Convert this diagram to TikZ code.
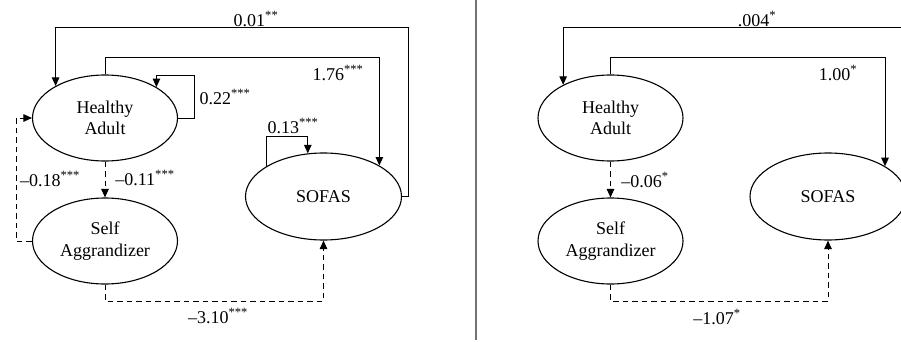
\documentclass[tikz,border=0pt]{standalone}
\usepackage{fontspec}
\setmainfont{Liberation Serif}
\usetikzlibrary{arrows.meta,shapes.geometric,calc}
\newcommand\figfont{\fontsize{18}{21.5}\selectfont}
\begin{document}
\begin{tikzpicture}[x=1pt,y=-1pt,
  lat/.style={ellipse,draw,line width=1.1pt,minimum width=145pt,minimum height=86pt,
    inner sep=0pt,align=center,font=\figfont},
  sofsize/.style={minimum width=156pt,minimum height=87pt},
  arr/.style={line width=1pt,-{Triangle[length=8.5pt,width=7.5pt]}},
  dsh/.style={dash pattern=on 5.5pt off 4pt},
  lbl/.style={inner sep=0pt,font=\figfont}]
\useasboundingbox (0,0) rectangle (901,342);
\clip (0,0) rectangle (901,342);
% coordinates
\coordinate (t1) at (0,28);
\coordinate (t2) at (0,58);
\coordinate (b1) at (0,301);
\coordinate (r1) at (408,0);
\coordinate (r2) at (915,0);
\coordinate (l1) at (194,76);
\coordinate (l2) at (0,136);
\coordinate (l3) at (16,0);
\coordinate (d1) at (476,0);
\coordinate (d2) at (476,340);
% left panel
\node[lat] (ha) at (105,118) {Healthy\\Adult};
\node[lat] (sa) at (105,241) {Self\\Aggrandizer};
\node[lat,sofsize] (so) at (323.5,196.5) {SOFAS};
\draw[arr] (so.east) -- (r1 |- so.east) -- (r1 |- t1) -| (ha.147.1);
\draw[arr] (ha.north) -- (ha.north |- t2) -| (so.29.7);
\draw[arr] (ha.east) -- (l1 |- ha.east) -- (l1) -| (ha.31);
\draw[arr] (so.152) -- (so.152 |- l2) -| (so.110);
\draw[arr,dsh] (ha.south) -- (sa.north);
\draw[arr,dsh] (sa.west) -- (l3 |- sa.west) -- (l3 |- ha.west) -- (ha.west);
\draw[arr,dsh] (sa.south) -- (sa.south |- b1) -| (so.south);
\node[lbl] (n1) at (256,19) {0.01\textsuperscript{**}};
\node[lbl] (n2) at (338,73) {1.76\textsuperscript{***}};
\node[lbl] (n3) at (225,97) {0.22\textsuperscript{***}};
\node[lbl] (n4) at (293,126) {0.13\textsuperscript{***}};
\node[lbl] (n5) at (50,179) {–0.18\textsuperscript{***}};
\node[lbl] (n6) at (145,178) {–0.11\textsuperscript{***}};
\node[lbl] (n7) at (218,316) {–3.10\textsuperscript{***}};
% divider
\draw[line width=1.3pt,black!55] (d1) -- (d2);
% right panel
\node[lat] (ha2) at (610.5,118) {Healthy\\Adult};
\node[lat] (sa2) at (610.5,241) {Self\\Aggrandizer};
\node[lat,sofsize] (so2) at (828,196.5) {SOFAS};
\draw[arr] (so2.east) -- (r2 |- so2.east) -- (r2 |- t1) -| (ha2.145.6);
\draw[arr] (ha2.north) -- (ha2.north |- t2) -| (so2.28.4);
\draw[arr,dsh] (ha2.south) -- (sa2.north);
\draw[arr,dsh] (sa2.south) -- (sa2.south |- b1) -| (so2.south);
\node[lbl] (m1) at (757,19) {.004\textsuperscript{*}};
\node[lbl] (m2) at (838,73) {1.00\textsuperscript{*}};
\node[lbl] (m3) at (645,180) {–0.06\textsuperscript{*}};
\node[lbl] (m4) at (717,317) {–1.07\textsuperscript{*}};
\end{tikzpicture}
\end{document}
